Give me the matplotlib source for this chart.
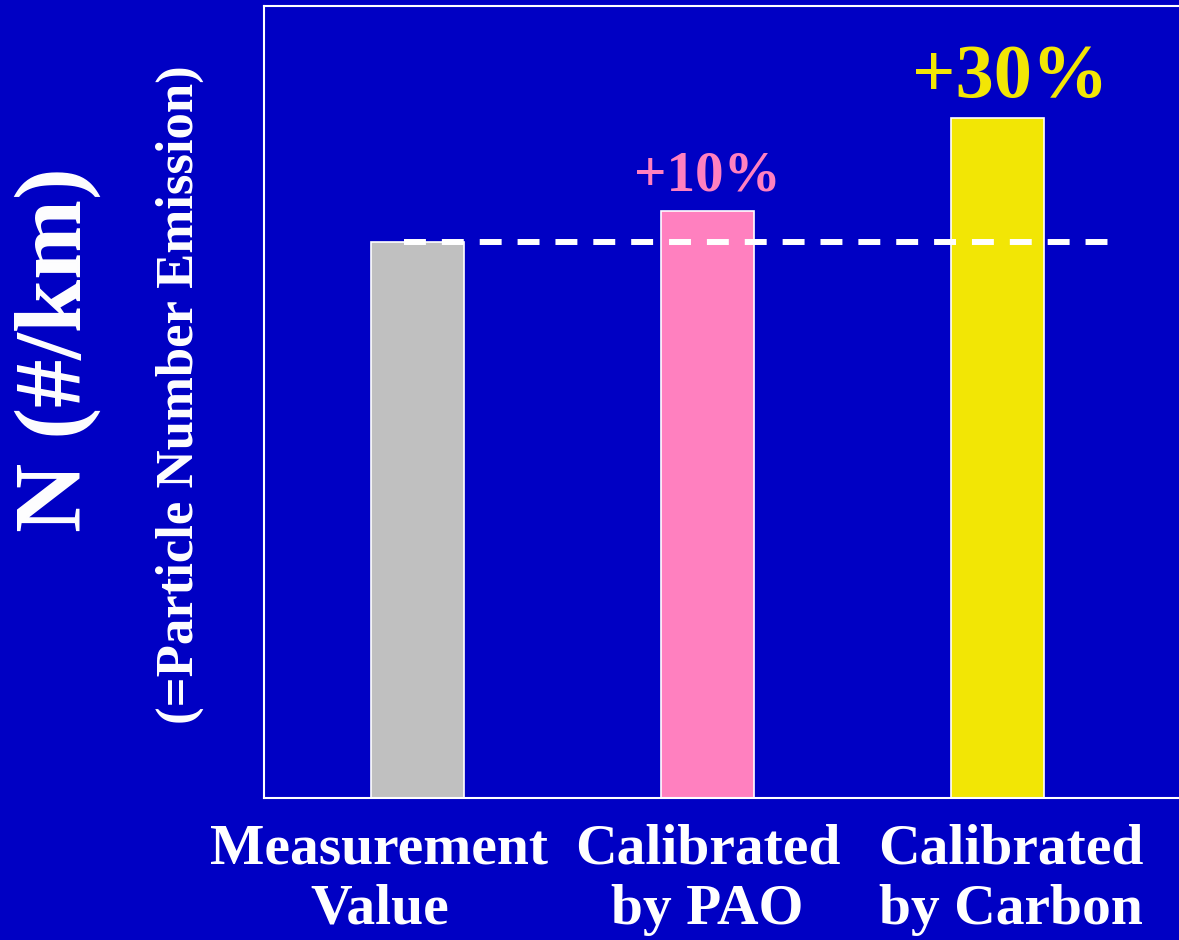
import matplotlib.pyplot as plt
from matplotlib.transforms import ScaledTranslation

plt.rcParams['font.family'] = ['Liberation Serif', 'DejaVu Serif']
plt.rcParams['font.weight'] = 'bold'

categories = ['Measurement\nValue', 'Calibrated\nby PAO', 'Calibrated\nby Carbon']
values = [0.702, 0.741, 0.859]
labels = ['', '+10%', '+30%']
bar_colors = ['#c0c0c0', '#ff80bf', '#f2e605']
label_colors = ['white', '#ff80bf', '#f2e605']
label_sizes = [40, 41, 55]
baseline = values[0]

bg = '#0000c4'
fig = plt.figure(figsize=(11.79, 9.40), dpi=100, facecolor=bg)
ax = fig.add_axes([0.2239, 0.151, 0.7761, 0.8426], facecolor=bg)

x = list(range(len(categories)))
ax.bar(x, values, width=0.32, color=bar_colors, edgecolor='white', linewidth=1.2, zorder=2)

ax.hlines(baseline, x[0] - 0.047, x[-1] + 0.395, colors='white', linewidth=4.3,
          linestyles=(0, (3.67, 2.67)), zorder=3)

for xi, v, lab, c, s in zip(x, values, labels, label_colors, label_sizes):
    if lab:
        dx = 0.045 if s > 45 else 0
        ax.text(xi + dx, v + 0.026, lab, color=c, fontsize=s, fontweight='bold',
                ha='center', va='baseline')

ax.set_xlim(-0.529, 2.626)
ax.set_ylim(0, 1.0)
ax.set_xticks(x)
ax.set_xticklabels(categories, color='white', fontsize=41.5, fontweight='bold',
                   linespacing=1.22)
ax.tick_params(axis='x', length=0, pad=18)
ax.set_yticks([])
tl = ax.get_xticklabels()
tl[0].set_transform(tl[0].get_transform() + ScaledTranslation(-0.38, 0, fig.dpi_scale_trans))
tl[2].set_transform(tl[2].get_transform() + ScaledTranslation(0.13, 0, fig.dpi_scale_trans))

for side in ['left', 'top', 'bottom']:
    ax.spines[side].set_color('white')
    ax.spines[side].set_linewidth(1.5)
ax.spines['right'].set_visible(False)

fig.text(58 / 1179, 1 - 350 / 940, 'N (#/km)', rotation=90, color='white',
         fontsize=69, fontweight='bold', ha='center', va='center')
fig.text(180 / 1179, 1 - 395 / 940, '(=Particle Number Emission)', rotation=90,
         color='white', fontsize=38, fontweight='bold', ha='center', va='center')

fig.savefig('out.png', dpi=100, facecolor=bg)
